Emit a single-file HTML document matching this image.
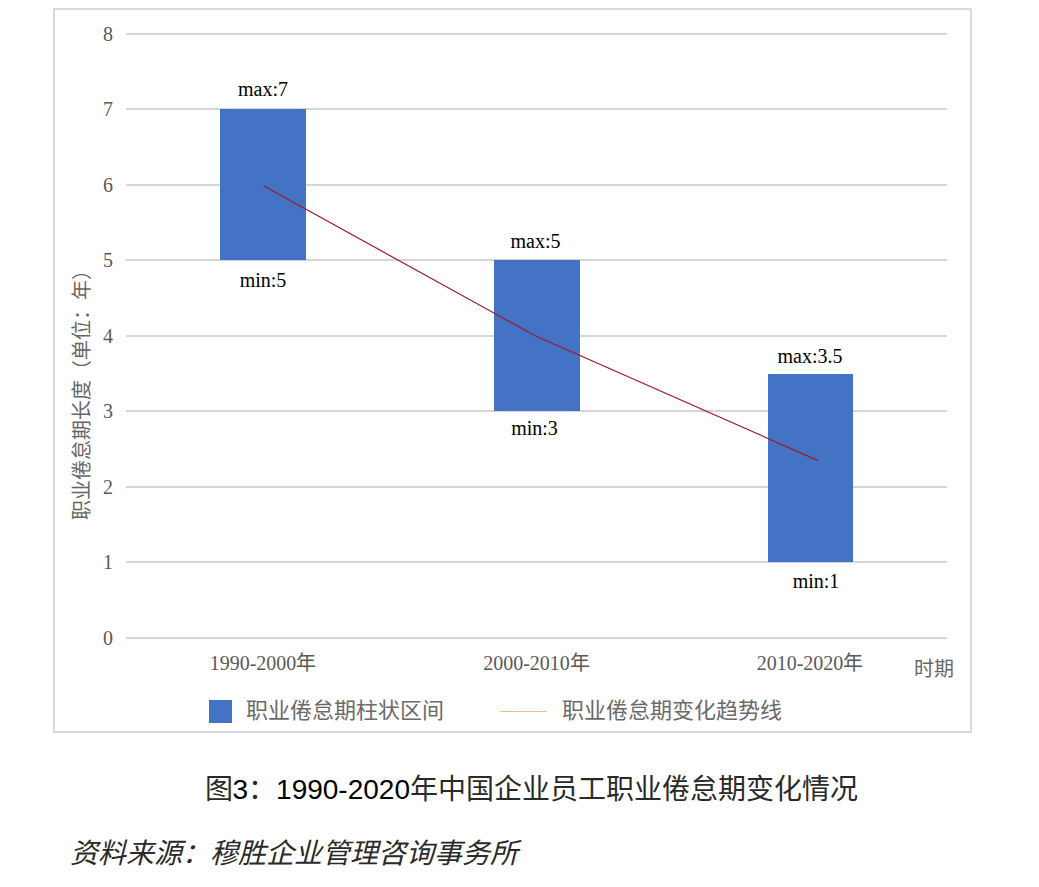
<!DOCTYPE html>
<html lang="zh-CN"><head><meta charset="utf-8">
<style>
html,body{margin:0;padding:0;background:#fff;}
body{width:1039px;height:887px;position:relative;overflow:hidden;font-family:"Liberation Serif",serif;}
.t{position:absolute;white-space:nowrap;line-height:1;}
.yl{color:#595959;font-size:20px;width:40px;text-align:right;left:73px;}
.dl{color:#000;font-size:20px;width:120px;text-align:center;}
.xl{color:#595959;font-size:20px;width:200px;text-align:center;}
.lg{color:#6a6a6a;font-size:22px;}
</style></head><body>
<svg width="1039" height="887" style="position:absolute;left:0;top:0">
  <rect x="54" y="9" width="917" height="723" fill="#fff" stroke="#d9d9d9" stroke-width="2"/>
  <g stroke="#d6d6d6" stroke-width="2">
    <line x1="126" y1="34" x2="947" y2="34"/>
    <line x1="126" y1="109" x2="947" y2="109"/>
    <line x1="126" y1="185" x2="947" y2="185"/>
    <line x1="126" y1="260" x2="947" y2="260"/>
    <line x1="126" y1="336" x2="947" y2="336"/>
    <line x1="126" y1="411" x2="947" y2="411"/>
    <line x1="126" y1="487" x2="947" y2="487"/>
    <line x1="126" y1="562" x2="947" y2="562"/>
    <line x1="126" y1="638" x2="947" y2="638"/>
  </g>
  <rect x="220" y="109" width="86" height="151" fill="#4472c4"/>
  <rect x="494" y="260" width="86" height="151" fill="#4472c4"/>
  <rect x="768" y="374" width="85" height="188" fill="#4472c4"/>
  <polyline points="263.5,185.8 535.2,335.8 817.7,460.4" fill="none" stroke="#a01828" stroke-width="1.2"/>
  <rect x="209" y="700" width="23" height="23" fill="#4472c4"/>
  <line x1="500" y1="711.5" x2="547" y2="711.5" stroke="#e6c67c" stroke-width="1.2"/>
</svg>
<div class="t yl" style="top:24px">8</div>
<div class="t yl" style="top:99px">7</div>
<div class="t yl" style="top:175px">6</div>
<div class="t yl" style="top:250px">5</div>
<div class="t yl" style="top:326px">4</div>
<div class="t yl" style="top:401px">3</div>
<div class="t yl" style="top:477px">2</div>
<div class="t yl" style="top:552px">1</div>
<div class="t yl" style="top:628px">0</div>

<div class="t dl" style="left:203px;top:79px">max:7</div>
<div class="t dl" style="left:203px;top:270px">min:5</div>
<div class="t dl" style="left:475.5px;top:231px">max:5</div>
<div class="t dl" style="left:474.5px;top:418px">min:3</div>
<div class="t dl" style="left:750px;top:346px">max:3.5</div>
<div class="t dl" style="left:756px;top:571px">min:1</div>

<div class="t xl" style="left:163px;top:653px">1990-2000年</div>
<div class="t xl" style="left:436.5px;top:653px">2000-2010年</div>
<div class="t xl" style="left:710px;top:653px">2010-2020年</div>
<div class="t" style="left:914px;top:659px;font-size:20px;color:#666">时期</div>

<div class="t" style="left:81.5px;top:390px;font-size:20px;color:#666;transform:translate(-50%,-50%) rotate(-90deg)">职业倦怠期长度（单位：年）</div>

<div class="t lg" style="left:246px;top:700px">职业倦怠期柱状区间</div>
<div class="t lg" style="left:562px;top:700px">职业倦怠期变化趋势线</div>

<div class="t" style="left:204.5px;top:776px;font-size:28px;color:#2a2a2a;font-family:'Liberation Sans',sans-serif">图<span style="color:#000">3</span>：<span style="color:#000">1990-2020</span>年中国企业员工职业倦怠期变化情况</div>
<div class="t" style="left:70px;top:840px;font-size:28px;color:#2a2a2a;font-style:italic;font-family:'Liberation Sans',sans-serif">资料来源：穆胜企业管理咨询事务所</div>
</body></html>
